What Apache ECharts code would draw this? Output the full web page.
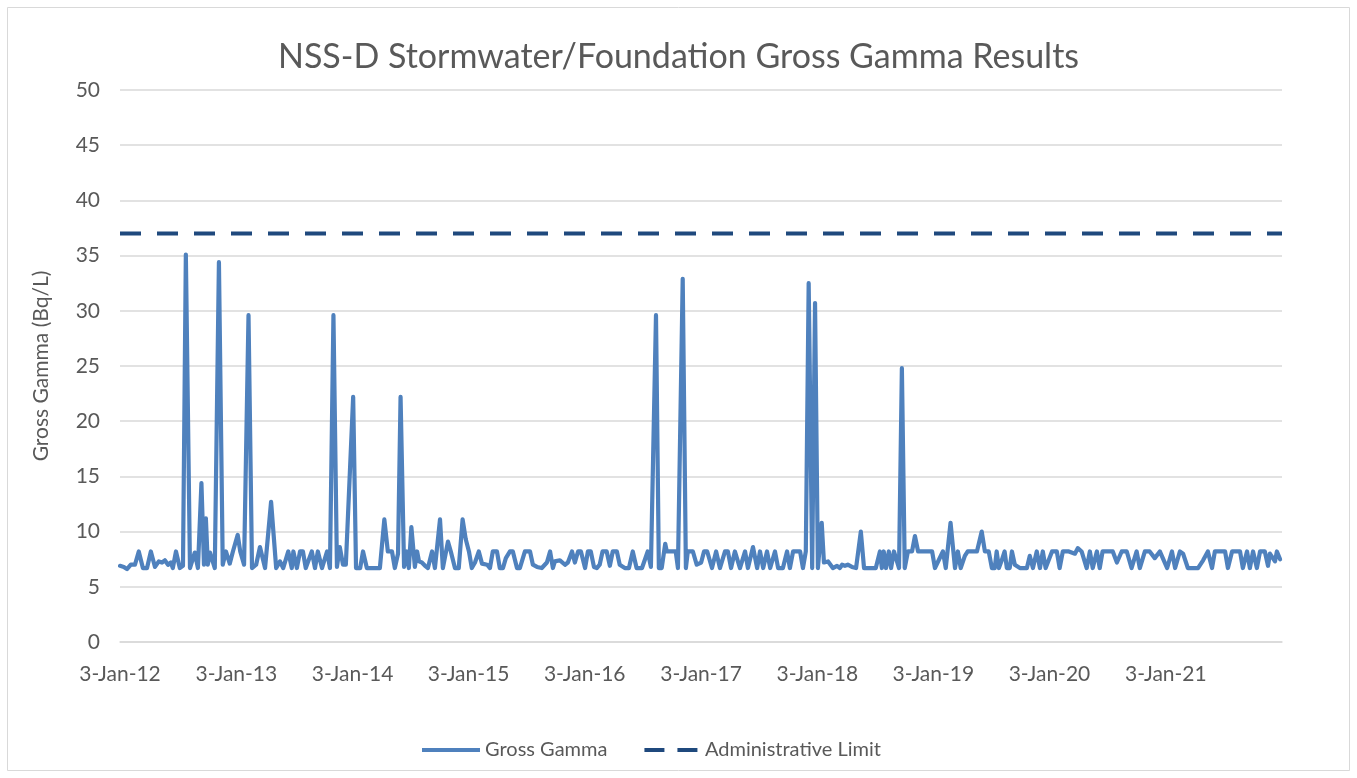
<!DOCTYPE html>
<html>
<head>
<meta charset="utf-8">
<script src="https://cdn.jsdelivr.net/npm/echarts@6/dist/echarts.min.js"></script>
<style>
html,body{margin:0;padding:0;background:#fff;}
#chart{width:1357px;height:778px;}
</style>
</head>
<body>
<div id="chart"></div>
<script>
// ---- Data ----
const chartTitle = 'NSS-D Stormwater/Foundation Gross Gamma Results';
const yAxisTitle = 'Gross Gamma (Bq/L)';
const seriesNames = ['Gross Gamma', 'Administrative Limit'];

const xTickDates = ['2012-01-03','2013-01-03','2014-01-03','2015-01-03','2016-01-03','2017-01-03','2018-01-03','2019-01-03','2020-01-03','2021-01-03'];
const xTickLabels = ['3-Jan-12','3-Jan-13','3-Jan-14','3-Jan-15','3-Jan-16','3-Jan-17','3-Jan-18','3-Jan-19','3-Jan-20','3-Jan-21'];
const xRange = ['2012-01-03', '2022-01-03'];

const sampleDates = [
'2012-01-03','2012-01-15','2012-01-25','2012-02-06','2012-02-19','2012-03-02','2012-03-15','2012-03-28','2012-04-09','2012-04-22',
'2012-05-04','2012-05-14','2012-05-23','2012-06-02','2012-06-11','2012-06-17','2012-06-27','2012-07-09','2012-07-19','2012-07-28',
'2012-08-10','2012-08-25','2012-09-04','2012-09-15','2012-09-23','2012-09-29','2012-10-05','2012-10-12','2012-10-27','2012-11-09',
'2012-11-21','2012-12-01','2012-12-13','2012-12-23',
'2013-01-07','2013-01-15','2013-01-27','2013-02-10','2013-02-21','2013-03-06','2013-03-18','2013-04-03','2013-04-22','2013-05-08',
'2013-05-20','2013-05-30','2013-06-15','2013-06-26','2013-07-01','2013-07-12','2013-07-22','2013-07-31','2013-08-09','2013-08-28',
'2013-09-07','2013-09-16','2013-09-29','2013-10-15','2013-10-24','2013-11-04','2013-11-15','2013-11-24','2013-12-04','2013-12-13',
'2014-01-05','2014-01-14','2014-01-27','2014-02-05','2014-02-17','2014-03-05','2014-03-17','2014-03-30','2014-04-13','2014-04-24',
'2014-05-07','2014-05-16','2014-05-26','2014-06-03','2014-06-14','2014-06-23','2014-06-29','2014-07-07','2014-07-18','2014-07-25',
'2014-07-31','2014-08-09','2014-08-19','2014-08-28','2014-09-10','2014-09-19','2014-10-05','2014-10-14','2014-10-30','2014-11-08',
'2014-11-21','2014-12-03','2014-12-15','2014-12-25',
'2015-01-04','2015-01-13','2015-01-23','2015-02-04','2015-02-14','2015-03-02','2015-03-11','2015-03-20','2015-04-02','2015-04-11',
'2015-04-21','2015-04-30','2015-05-13','2015-05-22','2015-06-04','2015-06-13','2015-06-29','2015-07-15','2015-07-24','2015-08-06',
'2015-08-21','2015-09-06','2015-09-16','2015-09-25','2015-10-01','2015-10-17','2015-11-02','2015-11-11','2015-11-24','2015-12-03',
'2015-12-13','2015-12-22',
'2016-01-04','2016-01-13','2016-01-22','2016-02-01','2016-02-10','2016-02-19','2016-02-28','2016-03-12','2016-03-22','2016-03-31',
'2016-04-13','2016-04-22','2016-05-08','2016-05-21','2016-06-02','2016-06-14','2016-07-01','2016-07-19','2016-07-29','2016-08-04',
'2016-08-14','2016-08-23','2016-09-01','2016-09-12','2016-09-17','2016-09-27','2016-10-06','2016-10-15','2016-10-22','2016-10-28',
'2016-11-06','2016-11-16','2016-11-22','2016-12-08','2016-12-20',
'2017-01-03','2017-01-12','2017-01-22','2017-02-06','2017-02-19','2017-03-03','2017-03-19','2017-03-28','2017-04-07','2017-04-19',
'2017-05-05','2017-05-21','2017-05-30','2017-06-15','2017-06-28','2017-07-07','2017-07-17','2017-07-29','2017-08-08','2017-08-23',
'2017-09-02','2017-09-17','2017-09-30','2017-10-09','2017-10-19','2017-11-01','2017-11-10','2017-11-19','2017-11-28','2017-12-07',
'2017-12-18','2017-12-27',
'2018-01-05','2018-01-17','2018-01-24','2018-02-06','2018-02-21','2018-03-06','2018-03-15','2018-03-22','2018-03-31','2018-04-09',
'2018-04-22','2018-05-05','2018-05-20','2018-05-30','2018-06-11','2018-06-24','2018-07-06','2018-07-19','2018-07-25','2018-07-31',
'2018-08-07','2018-08-16','2018-08-23','2018-09-01','2018-09-17','2018-09-26','2018-10-05','2018-10-15','2018-10-28','2018-11-06',
'2018-11-16','2018-12-08','2018-12-30',
'2019-01-08','2019-02-02','2019-02-11','2019-02-26','2019-03-12','2019-03-21','2019-03-30','2019-04-12','2019-04-21','2019-05-04',
'2019-05-20','2019-06-04','2019-06-14','2019-06-26','2019-07-06','2019-07-15','2019-07-21','2019-07-28','2019-08-06','2019-08-15',
'2019-08-22','2019-08-31','2019-09-07','2019-09-16','2019-10-02','2019-10-24','2019-11-02','2019-11-12','2019-11-24','2019-12-04',
'2019-12-13','2019-12-22',
'2020-01-11','2020-01-26','2020-02-04','2020-02-14','2020-03-04','2020-03-23','2020-04-01','2020-04-13','2020-04-29','2020-05-09',
'2020-05-18','2020-05-31','2020-06-09','2020-06-18','2020-07-11','2020-07-20','2020-08-02','2020-08-17','2020-09-02','2020-09-17',
'2020-10-03','2020-10-13','2020-10-29','2020-11-13','2020-11-29','2020-12-15',
'2021-01-07','2021-01-22','2021-02-01','2021-02-16','2021-02-26','2021-03-13','2021-03-29','2021-04-14','2021-04-30','2021-05-15',
'2021-05-28','2021-06-06','2021-06-22','2021-07-08','2021-07-17','2021-07-30','2021-08-11','2021-08-24','2021-09-02','2021-09-15',
'2021-09-24','2021-10-04','2021-10-16','2021-10-26','2021-11-10','2021-11-20','2021-11-26','2021-12-12','2021-12-18','2021-12-28'
];

const grossGamma = [
6.9,6.8,6.6,7.0,7.0,8.2,6.7,6.7,8.2,6.8,
7.3,7.2,7.4,7.0,7.2,6.7,8.2,6.7,6.9,35.1,
6.7,8.1,6.7,14.4,7.0,11.2,7.0,8.1,6.7,34.4,
7.0,8.2,7.1,8.2,
9.7,8.2,7.0,29.6,6.7,7.0,8.6,6.7,12.7,6.7,
7.3,6.7,8.2,6.7,8.2,6.7,8.2,8.2,6.7,8.2,
6.7,8.2,6.7,8.2,6.7,29.6,6.8,8.6,7.0,7.0,
22.2,6.7,6.7,8.2,6.7,6.7,6.7,6.7,11.1,8.2,
8.2,6.7,8.0,22.2,6.8,8.2,6.7,10.4,6.8,8.2,
7.3,7.2,6.9,6.7,8.2,6.7,11.1,6.7,9.1,8.2,
6.7,6.7,11.1,9.3,
8.2,6.7,7.2,8.2,7.1,7.0,6.7,8.2,8.2,6.7,
6.7,7.6,8.2,8.2,6.7,6.7,8.2,8.2,7.0,6.8,
6.7,7.2,8.2,6.7,7.3,7.4,7.0,7.2,8.2,7.2,
8.2,8.2,
6.7,8.2,8.2,6.8,6.7,7.0,8.2,8.2,6.9,8.2,
8.2,7.0,6.7,6.7,8.2,6.7,6.7,8.2,6.8,6.7,
29.6,6.7,6.7,8.9,8.2,8.2,8.2,8.2,6.7,6.7,
32.9,6.7,8.2,8.2,7.0,
7.2,8.2,8.2,6.7,8.2,6.7,8.2,8.2,6.7,8.2,
6.7,8.2,6.7,8.6,6.7,8.2,6.7,8.2,6.7,8.2,
6.7,6.7,8.2,6.7,8.2,8.2,8.2,6.7,8.2,32.5,
6.7,30.7,
6.7,10.8,7.2,7.3,6.7,6.9,6.7,7.0,6.9,7.0,
6.8,6.7,10.0,6.7,6.7,6.7,6.7,8.2,6.7,8.2,
6.7,8.2,6.7,8.2,6.7,24.8,6.7,8.2,8.2,9.6,
8.2,8.2,8.2,
6.7,8.2,6.7,10.8,6.7,8.2,6.7,7.8,8.2,8.2,
8.2,10.0,8.2,8.2,6.7,6.7,8.2,6.7,7.4,8.2,
6.7,6.7,8.2,7.0,6.7,6.7,7.8,6.7,8.2,6.7,
8.2,6.7,
8.2,8.2,6.7,8.2,8.2,8.0,8.5,8.2,6.7,8.2,
6.7,8.2,6.7,8.2,8.2,8.2,7.2,8.2,8.2,6.7,
8.2,6.7,8.2,8.2,7.6,8.2,
6.7,8.2,6.7,8.2,8.0,6.7,6.7,6.7,7.4,8.2,
6.7,8.2,8.2,8.2,6.7,8.2,8.2,8.2,6.7,8.2,
6.7,8.2,6.7,8.2,8.2,6.9,8.0,7.3,8.2,7.5
];

const limitDates = ['2012-01-03', '2022-01-03'];
const limitValues = [37, 37];

const yTicks = { min: 0, max: 50, interval: 5 };

// ---- Build chart ----
const FONT = 'Lato';
const TEXT = '#595959';
const GAMMA_COLOR = '#4f81bd';
const LIMIT_COLOR = '#1f497d';
const tickTimes = xTickDates.map(d => Date.parse(d));
const gammaData = sampleDates.map((d, i) => [Date.parse(d), grossGamma[i]]);
const limitData = limitDates.map((d, i) => [Date.parse(d), limitValues[i]]);

const chart = echarts.init(document.getElementById('chart'), null, { renderer: 'canvas' });
chart.setOption({
  animation: false,
  backgroundColor: '#ffffff',
  graphic: [{
    type: 'rect', silent: true, z: -10,
    shape: { x: 7.5, y: 7.5, width: 1342, height: 763 },
    style: { fill: 'none', stroke: '#d9d9d9', lineWidth: 1 }
  }],
  title: {
    text: chartTitle,
    left: 'center',
    top: 35,
    textStyle: { fontFamily: FONT, fontSize: 34, fontWeight: 'normal', color: TEXT }
  },
  grid: { left: 120, right: 75, top: 90, bottom: 136, containLabel: false },
  legend: {
    top: 735,
    left: 417,
    itemWidth: 58,
    itemHeight: 4,
    itemGap: 37,
    textStyle: { fontFamily: FONT, fontSize: 20, color: TEXT },
    data: [
      { name: seriesNames[0], icon: 'rect', itemStyle: { color: GAMMA_COLOR } },
      { name: seriesNames[1], icon: 'path://M0,0H20V4H0Z M33,0H53V4H33Z', itemStyle: { color: LIMIT_COLOR } }
    ]
  },
  xAxis: {
    type: 'value',
    min: Date.parse(xRange[0]),
    max: Date.parse(xRange[1]),
    axisLine: { show: true, lineStyle: { color: '#d9d9d9', width: 1.5 } },
    axisTick: { show: false },
    splitLine: { show: false },
    axisLabel: {
      customValues: tickTimes,
      formatter: v => { const i = tickTimes.indexOf(v); return i >= 0 ? xTickLabels[i] : ''; },
      fontFamily: FONT, fontSize: 21, color: TEXT, margin: 22
    }
  },
  yAxis: {
    type: 'value',
    min: yTicks.min, max: yTicks.max, interval: yTicks.interval,
    name: yAxisTitle,
    nameLocation: 'middle',
    nameGap: 68,
    nameRotate: 90,
    nameTextStyle: { fontFamily: FONT, fontSize: 21, color: TEXT },
    axisLine: { show: false },
    axisTick: { show: false },
    splitLine: { lineStyle: { color: '#d9d9d9', width: 1.5 } },
    axisLabel: { fontFamily: FONT, fontSize: 21, color: TEXT, margin: 20 }
  },
  series: [
    {
      name: seriesNames[0],
      type: 'line',
      data: gammaData,
      symbol: 'none',
      smooth: false,
      lineStyle: { color: GAMMA_COLOR, width: 4.2, cap: 'round', join: 'round' },
      itemStyle: { color: GAMMA_COLOR },
      z: 3
    },
    {
      name: seriesNames[1],
      type: 'line',
      data: limitData,
      symbol: 'none',
      lineStyle: { color: LIMIT_COLOR, width: 4, type: [21, 16] },
      itemStyle: { color: LIMIT_COLOR },
      z: 4
    }
  ]
});
</script>
</body>
</html>
